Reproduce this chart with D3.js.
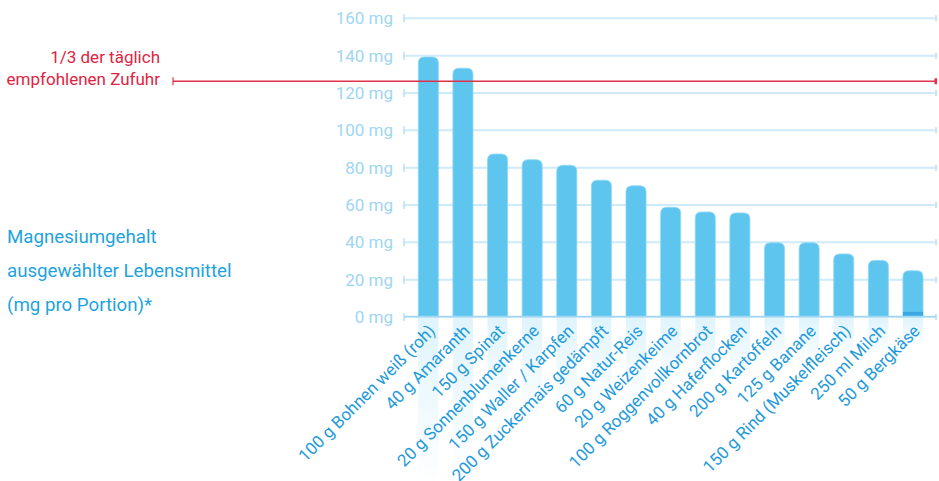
<!DOCTYPE html>
<html>
<head>
<meta charset="utf-8">
<script src="https://cdn.jsdelivr.net/npm/d3@7"></script>
<style>
  body { margin:0; background:#fff; }
  text { font-family: Roboto, "Noto Sans", sans-serif; }
</style>
</head>
<body>
<svg id="chart"></svg>
<script>
var foods = ["100 g Bohnen weiß (roh)","40 g Amaranth","150 g Spinat","20 g Sonnenblumenkerne",
             "150 g Waller / Karpfen","200 g Zuckermais gedämpft","60 g Natur-Reis","20 g Weizenkeime",
             "100 g Roggenvollkornbrot","40 g Haferflocken","200 g Kartoffeln","125 g Banane",
             "150 g Rind (Muskelfleisch)","250 ml Milch","50 g Bergkäse"];
var magnesium = [139,133,87,84,81,73,70,58.5,56,55.5,39.5,39.5,33.5,30,24.5];
var yTicks = [0,20,40,60,80,100,120,140,160];
var recommended = 126;
var titleLines = ["Magnesiumgehalt","ausgewählter Lebensmittel","(mg pro Portion)*"];
var refLines = ["1/3 der täglich","empfohlenen Zufuhr"];

var w = 939, h = 481;
var svg = d3.select("svg#chart")
            .attr("width",w)
            .attr("height",h);

var yScale = d3.scaleLinear()
               .domain([0,160])
               .range([316.5,17.8]);
var xScale = d3.scaleBand()
               .domain(foods)
               .range([411,930.3])
               .paddingInner(0.42)
               .paddingOuter(0.21);

var defs = svg.append("defs");
var grad = defs.append("linearGradient")
               .attr("id","refl")
               .attr("x1",0).attr("y1",0).attr("x2",0).attr("y2",1);
grad.append("stop").attr("offset","0%").attr("stop-color","#5ec6ee").attr("stop-opacity",0.2);
grad.append("stop").attr("offset","100%").attr("stop-color","#5ec6ee").attr("stop-opacity",0);

// gridlines
var yAxis = d3.axisLeft(yScale)
              .tickValues(yTicks)
              .tickSize(-(936-404))
              .tickPadding(11)
              .tickFormat(function(d){ return d+" mg"; });
var gy = svg.append("g")
            .classed("yAxis",true)
            .attr("transform","translate(404,0)")
            .call(yAxis);
gy.select(".domain").remove();
gy.selectAll("line").attr("stroke","#cfeaf8").attr("stroke-width",2);
gy.selectAll("text")
  .attr("fill","#9ed6f2")
  .attr("font-size",17)
  .attr("dy","0.35em");
gy.selectAll(".tick").append("line")
  .attr("x1",0).attr("x2",0).attr("y1",-4).attr("y2",4)
  .attr("stroke","#b9e1f5").attr("stroke-width",1.5);
gy.selectAll(".tick").append("line")
  .attr("x1",936-404).attr("x2",936-404).attr("y1",-3).attr("y2",3)
  .attr("stroke","#c4e6f7").attr("stroke-width",2);

// reflections
svg.append("g").selectAll("rect")
   .data(foods)
   .enter()
   .append("rect")
   .attr("x",function(d){ return xScale(d); })
   .attr("y",yScale(0)+1)
   .attr("width",xScale.bandwidth())
   .attr("height",function(d,i){ return (yScale(0)-yScale(magnesium[i]))*0.65; })
   .attr("fill","url(#refl)");

// bars with rounded tops
function barPath(x,y,bw,bh){
  var r = Math.min(6,bh);
  return "M"+x+","+(y+bh)+"V"+(y+r)+"Q"+x+","+y+" "+(x+r)+","+y+
         "H"+(x+bw-r)+"Q"+(x+bw)+","+y+" "+(x+bw)+","+(y+r)+"V"+(y+bh)+"Z";
}
svg.append("g").classed("bars",true)
   .selectAll("path")
   .data(foods)
   .enter()
   .append("path")
   .attr("d",function(d,i){
     var y = yScale(magnesium[i]);
     return barPath(xScale(d),y,xScale.bandwidth(),yScale(0)-y);
   })
   .attr("fill","#5ec6ee")
   .attr("stroke","#8fd8f4")
   .attr("stroke-width",0.8);

// darker base on last bar
var last = foods[foods.length-1];
svg.append("rect")
   .attr("x",xScale(last))
   .attr("y",yScale(2.5))
   .attr("width",xScale.bandwidth())
   .attr("height",yScale(0)-yScale(2.5))
   .attr("fill","#3aa9e3");

// baseline
svg.append("line")
   .attr("x1",404).attr("x2",936)
   .attr("y1",yScale(0)).attr("y2",yScale(0))
   .attr("stroke","#9fd7f3").attr("stroke-width",1.5);

// recommended line
var ry = yScale(recommended);
svg.append("line")
   .attr("x1",173).attr("x2",936)
   .attr("y1",ry).attr("y2",ry)
   .attr("stroke","#e0324c").attr("stroke-width",1.5);
svg.append("line")
   .attr("x1",173).attr("x2",173).attr("y1",ry-4).attr("y2",ry+4)
   .attr("stroke","#e0324c").attr("stroke-width",1.2);
svg.append("rect")
   .attr("x",934.5).attr("y",ry-3).attr("width",2.5).attr("height",6)
   .attr("fill","#e0324c");

svg.append("g").selectAll("text")
   .data(refLines)
   .enter()
   .append("text")
   .attr("x",160)
   .attr("y",function(d,i){ return 63+i*22; })
   .attr("text-anchor","end")
   .attr("font-size",17)
   .attr("fill","#e2233f")
   .text(function(d){ return d; });

svg.append("g").selectAll("text")
   .data(titleLines)
   .enter()
   .append("text")
   .attr("x",7)
   .attr("y",function(d,i){ return 243+i*34; })
   .attr("font-size",18.7)
   .attr("fill","#1fa3dd")
   .text(function(d){ return d; });

// x labels
svg.append("g").classed("xLabels",true)
   .selectAll("text")
   .data(foods)
   .enter()
   .append("text")
   .attr("transform",function(d){
     return "translate("+(xScale(d)+xScale.bandwidth()/2+8)+",332) rotate(-45)";
   })
   .attr("text-anchor","end")
   .attr("font-size",17)
   .attr("fill","#1f9ad9")
   .text(function(d){ return d; });
</script>
</body>
</html>
